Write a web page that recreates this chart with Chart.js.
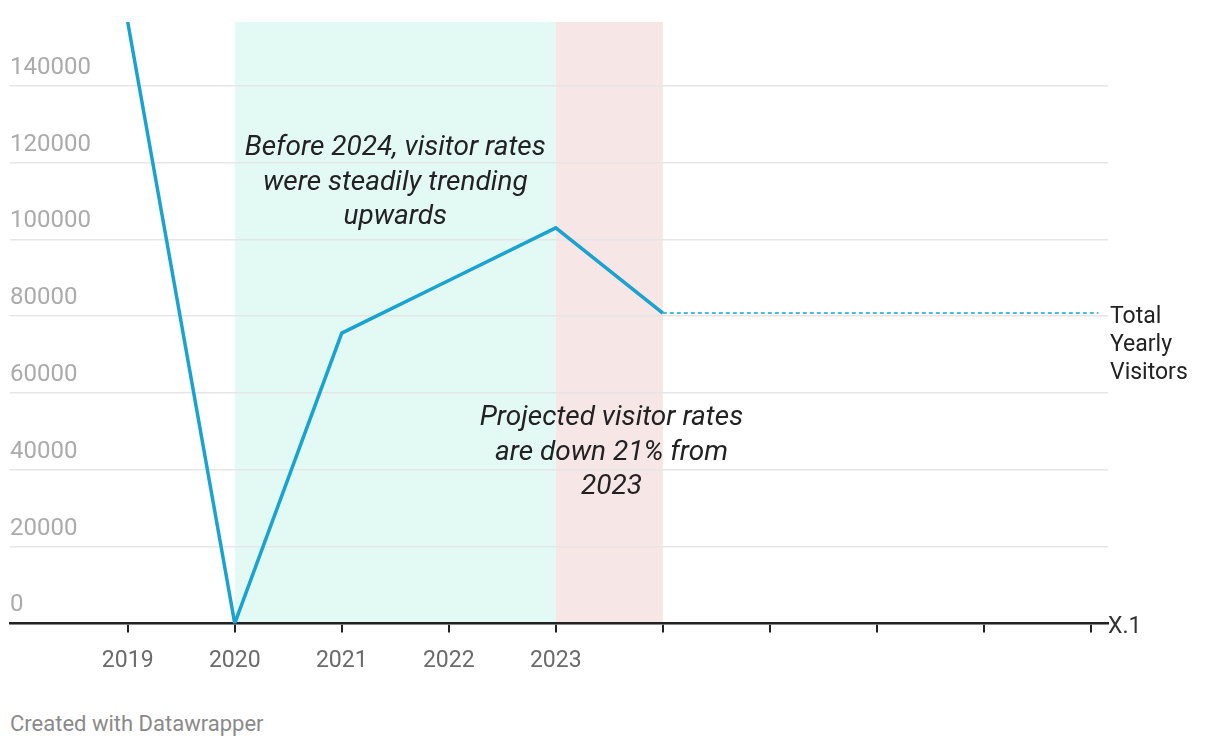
<!DOCTYPE html>
<html>
<head>
<meta charset="utf-8">
<script src="https://cdn.jsdelivr.net/npm/chart.js@4/dist/chart.umd.min.js"></script>
<style>
  html, body { margin: 0; padding: 0; background: #fff; }
  #wrap { position: relative; width: 1220px; height: 690px; }
  #footer {
    position: absolute; left: 10px; top: 711px;
    font: 22px Roboto, sans-serif; color: #8a8a8a;
  }
</style>
</head>
<body>
<div id="wrap"><canvas id="myChart"></canvas></div>
<div id="footer">Created with Datawrapper</div>
<script>
// data
var years = [2019, 2020, 2021, 2022, 2023, 2024];
var visitors = [156600, 0, 75600, 89300, 103000, 80800];
var tickYears = [2019, 2020, 2021, 2022, 2023, 2024, 2025, 2026, 2027, 2028];
var labelledYears = [2019, 2020, 2021, 2022, 2023];
var yTicks = [0, 20000, 40000, 60000, 80000, 100000, 120000, 140000];
var greenBand = [2020, 2023];
var pinkBand = [2023, 2024];
var projectionYears = [2024, 2028.07];

var noteBefore = ["Before 2024, visitor rates", "were steadily trending", "upwards"];
var noteProjected = ["Projected visitor rates", "are down 21% from", "2023"];
var seriesLabel = ["Total", "Yearly", "Visitors"];

var BLUE = '#1aa3cf';
var FONT = 'Roboto, sans-serif';

var mainData = years.map(function (y, i) { return {x: y, y: visitors[i]}; });
var lastValue = visitors[visitors.length - 1];
var projData = projectionYears.map(function (y) { return {x: y, y: lastValue}; });

// shaded bands behind the grid
var bandsPlugin = {
  id: 'bands',
  beforeDraw: function (chart) {
    var ctx = chart.ctx, a = chart.chartArea, xs = chart.scales.x;
    function band(r, color) {
      var x1 = xs.getPixelForValue(r[0]), x2 = xs.getPixelForValue(r[1]);
      ctx.fillStyle = color;
      ctx.fillRect(x1, a.top, x2 - x1, a.bottom - a.top);
    }
    ctx.save();
    band(greenBand, '#e3faf4');
    band(pinkBand, '#f7e6e6');
    ctx.restore();
  }
};

// annotations + right side labels
var textPlugin = {
  id: 'texts',
  afterDatasetsDraw: function (chart) {
    var ctx = chart.ctx, xs = chart.scales.x, ys = chart.scales.y, a = chart.chartArea;
    ctx.save();
    ctx.textBaseline = 'middle';

    ctx.fillStyle = '#222';
    ctx.font = 'italic 28px ' + FONT;
    ctx.textAlign = 'center';
    var cx = xs.getPixelForValue((greenBand[0] + greenBand[1]) / 2);
    noteBefore.forEach(function (t, i) { ctx.fillText(t, cx, 148 + i * 34.5); });
    var px = xs.getPixelForValue(2023.52);
    noteProjected.forEach(function (t, i) { ctx.fillText(t, px, 418 + i * 34.5); });

    ctx.font = '23px ' + FONT;
    ctx.textAlign = 'left';
    ctx.fillStyle = '#222';
    var ly = ys.getPixelForValue(lastValue) + 4;
    seriesLabel.forEach(function (t, i) { ctx.fillText(t, a.right + 2, ly + i * 28); });

    ctx.fillStyle = '#333';
    ctx.fillText('X.1', a.right, a.bottom + 4);
    ctx.restore();
  }
};

var ctx = document.getElementById('myChart').getContext('2d');
var chart = new Chart(ctx, {
  type: 'line',
  data: {
    datasets: [{
      label: 'Total Yearly Visitors',
      data: mainData,
      borderColor: BLUE,
      borderWidth: 3.5,
      pointRadius: 0,
      tension: 0,
      fill: false
    }, {
      label: 'projection',
      data: projData,
      borderColor: BLUE,
      borderWidth: 1.5,
      borderDash: [4, 3],
      pointRadius: 0,
      fill: false
    }]
  },
  options: {
    responsive: true,
    maintainAspectRatio: false,
    animation: false,
    layout: { padding: { left: 10, right: 112, top: 22, bottom: 0 } },
    plugins: { legend: { display: false }, tooltip: { enabled: false } },
    scales: {
      x: {
        type: 'linear',
        min: 2017.9,
        max: 2028.16,
        afterBuildTicks: function (s) { s.ticks = tickYears.map(function (v) { return {value: v}; }); },
        grid: { drawOnChartArea: false, drawTicks: true, tickLength: 9, color: '#222', lineWidth: 2 },
        border: { display: true, color: '#222', width: 2.5 },
        ticks: {
          padding: 15,
          color: '#6b6b6b',
          font: { family: FONT, size: 23 },
          maxRotation: 0,
          autoSkip: false,
          callback: function (v) { return labelledYears.indexOf(v) >= 0 ? String(v) : ''; }
        }
      },
      y: {
        type: 'linear',
        min: 0,
        max: 156600,
        afterBuildTicks: function (s) { s.ticks = yTicks.map(function (v) { return {value: v}; }); },
        grid: { color: '#e6e6e6', lineWidth: 1.5, drawTicks: false },
        border: { display: false },
        ticks: {
          mirror: true,
          padding: 0,
          labelOffset: -18,
          color: '#ababab',
          font: { family: FONT, size: 24 },
          callback: function (v) { return String(v); }
        }
      }
    }
  },
  plugins: [bandsPlugin, textPlugin]
});
</script>
</body>
</html>
